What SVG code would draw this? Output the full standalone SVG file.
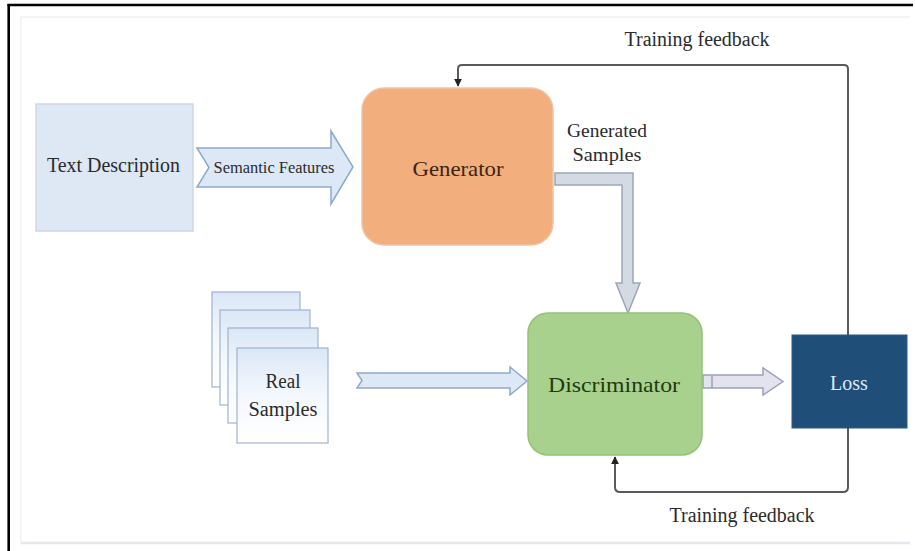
<svg xmlns="http://www.w3.org/2000/svg" width="915" height="551" viewBox="0 0 915 551">
<style>
  .lbl { font-family: "Liberation Serif", "Times New Roman", serif; fill: #2b2b2b; text-anchor: middle; }
  .fb { fill: none; stroke: #5a5a5a; stroke-width: 2; stroke-linejoin: round; }
  .paper { fill: url(#paperGrad); stroke: #9fb4cf; stroke-width: 1.2; }
  .blockArrow { fill: #dce8f5; stroke: #8ea9c8; stroke-width: 1.5; }
</style>
<defs>
  <linearGradient id="paperGrad" x1="0" y1="0" x2="0" y2="1">
    <stop offset="0" stop-color="#dbe7f6"/>
    <stop offset="0.5" stop-color="#f4f8fd"/>
    <stop offset="1" stop-color="#ffffff"/>
  </linearGradient>
  <marker id="arrowHead" viewBox="0 0 10 10" refX="9" refY="5" markerWidth="4" markerHeight="4" orient="auto" markerUnits="strokeWidth">
    <path d="M0,0 L10,5 L0,10 z" fill="#222"/>
  </marker>
</defs>

<rect x="0" y="0" width="915" height="551" fill="#ffffff"/>
<path d="M21,543 L21,17 L910,17" fill="none" stroke="#f3f4f6" stroke-width="2"/>
<line x1="21" y1="543" x2="910" y2="543" stroke="#e4e8ee" stroke-width="2.5"/>
<line x1="7.5" y1="5" x2="913" y2="5" stroke="#000" stroke-width="2.6"/>
<line x1="8.7" y1="4" x2="8.7" y2="551" stroke="#000" stroke-width="2.6"/>

<g id="connectors">
  <path class="fb" d="M848,335 L848,69 Q848,65 844,65 L462,65 Q458,65 458,69 L458,86" marker-end="url(#arrowHead)"/>
  <path class="fb" d="M848,428 L848,487 Q848,492 843,492 L620,492 Q615,492 615,487 L615,457" marker-end="url(#arrowHead)"/>
  <polygon id="semantic-arrow" class="blockArrow" points="197,148 331,148 331,131 353,167 331,204 331,187 197,187 209,167.5"/>
  <polygon id="generated-arrow" points="555,173 633,173 633,283 640,283 628,313 616,283 622,283 622,185 555,185" fill="#d3dae4" stroke="#9aa6b8" stroke-width="1.5"/>
  <polygon id="real-arrow" class="blockArrow" points="357,373 510,373 510,367 527,381 510,395 510,388 357,388 362,380.5"/>
  <polygon id="loss-arrow" points="703,375 763,375 763,368 783,381.5 763,395 763,388 703,388" fill="#e3e3ee" stroke="#9ca0bb" stroke-width="1.5"/>
  <line x1="712" y1="375" x2="712" y2="388" stroke="#9ca0bb" stroke-width="1.5"/>
</g>

<g id="text-description">
  <rect x="36" y="104" width="157" height="127" fill="#dde8f4" stroke="#cdd7e3" stroke-width="1.5"/>
  <text class="lbl" x="113.5" y="172" font-size="21" textLength="133" lengthAdjust="spacingAndGlyphs">Text Description</text>
</g>

<text class="lbl" x="274" y="173" font-size="16.5" textLength="121" lengthAdjust="spacingAndGlyphs">Semantic Features</text>

<g id="generator">
  <rect x="362" y="88" width="191" height="157" rx="22" ry="22" fill="#f3ae7e" stroke="#f0c4a3" stroke-width="1.5"/>
  <text class="lbl" x="458" y="176" font-size="22" textLength="91" lengthAdjust="spacingAndGlyphs" style="fill:#3d2410">Generator</text>
</g>

<text class="lbl" x="607" y="137" font-size="19.5" textLength="80" lengthAdjust="spacingAndGlyphs">Generated</text>
<text class="lbl" x="607" y="161" font-size="19.5" textLength="69" lengthAdjust="spacingAndGlyphs">Samples</text>

<g id="real-samples">
  <rect class="paper" x="212" y="292" width="88" height="95"/>
  <rect class="paper" x="220" y="310" width="90" height="95"/>
  <rect class="paper" x="228" y="328" width="90" height="95"/>
  <rect class="paper" x="237" y="348" width="91" height="95"/>
  <text class="lbl" x="283" y="388" font-size="20" textLength="35" lengthAdjust="spacingAndGlyphs">Real</text>
  <text class="lbl" x="283" y="416" font-size="20" textLength="69" lengthAdjust="spacingAndGlyphs">Samples</text>
</g>

<g id="discriminator">
  <rect x="528" y="313" width="174" height="142" rx="20" ry="20" fill="#a9d18e" stroke="#94c274" stroke-width="1.5"/>
  <text class="lbl" x="614" y="392" font-size="22" textLength="132" lengthAdjust="spacingAndGlyphs" style="fill:#1f3a10">Discriminator</text>
</g>

<g id="loss">
  <rect x="792" y="335" width="115" height="93" fill="#1f4e79" stroke="#2a5a88" stroke-width="1"/>
  <text class="lbl" x="849" y="390" font-size="20" style="fill:#dde9f5">Loss</text>
</g>

<text class="lbl" x="697" y="46" font-size="20" textLength="145" lengthAdjust="spacingAndGlyphs">Training feedback</text>
<text class="lbl" x="742" y="522" font-size="20" textLength="145" lengthAdjust="spacingAndGlyphs">Training feedback</text>
</svg>
